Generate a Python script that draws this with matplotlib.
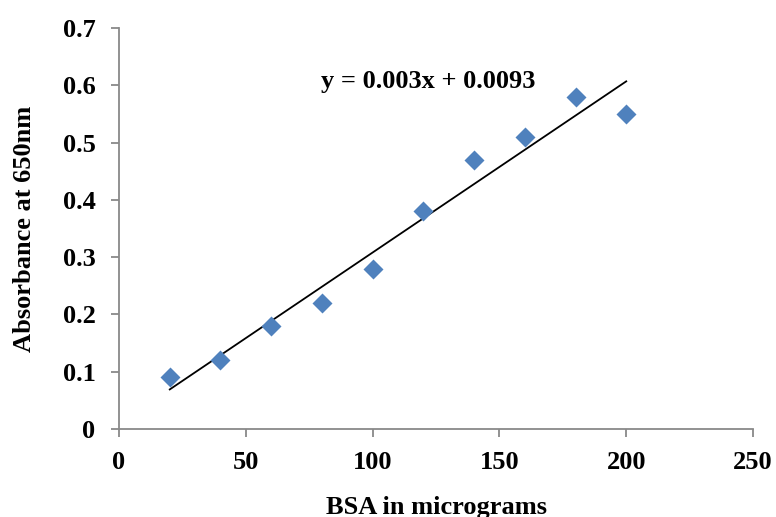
import numpy as np
import matplotlib
matplotlib.use("Agg")
import matplotlib.pyplot as plt

# BSA standard curve
bsa_ug = [20, 40, 60, 80, 100, 120, 140, 160, 180, 200]
absorbance = [0.09, 0.12, 0.18, 0.22, 0.28, 0.38, 0.47, 0.51, 0.58, 0.55]
x_ticks = [0, 50, 100, 150, 200, 250]
y_ticks = [0, 0.1, 0.2, 0.3, 0.4, 0.5, 0.6, 0.7]
eq_text = "y = 0.003x + 0.0093"

plt.rcParams["font.family"] = ["Liberation Serif", "DejaVu Serif"]
plt.rcParams["font.weight"] = "bold"

fig = plt.figure(figsize=(7.76, 5.17), dpi=100)
ax = fig.add_axes([0.1534, 0.1702, 0.8170, 0.7756])

# linear trendline over the data range
k, m = np.polyfit(bsa_ug, absorbance, 1)
xs = np.array([bsa_ug[0], bsa_ug[-1]])
ax.plot(xs, k * xs + m, color="black", lw=1.3, zorder=2)

ax.plot(bsa_ug, absorbance, "D", color="#4F81BD", ms=10, mec="none", zorder=3)

ax.text(122, 0.606, eq_text, ha="center", va="center", fontsize=19, fontweight="bold")

ax.set_xlim(0, 250)
ax.set_ylim(0, 0.7)
ax.set_xticks(x_ticks)
ax.set_yticks(y_ticks)
ax.set_yticklabels(["0" if v == 0 else f"{v:.1f}" for v in y_ticks])

for s in ["top", "right"]:
    ax.spines[s].set_visible(False)
for s in ["left", "bottom"]:
    ax.spines[s].set_color("#898989")
    ax.spines[s].set_linewidth(1.3)

ax.tick_params(direction="out", length=6, width=1.3, color="#898989",
               labelsize=19)
ax.tick_params(axis="y", pad=11)
ax.tick_params(axis="x", pad=10)
for lab in ax.get_xticklabels() + ax.get_yticklabels():
    lab.set_fontweight("bold")

ax.set_xlabel("BSA in micrograms", fontsize=19, fontweight="bold", labelpad=16)
ax.set_ylabel("Absorbance at 650nm", fontsize=19, fontweight="bold", labelpad=19)

fig.savefig("out.png", dpi=100)
